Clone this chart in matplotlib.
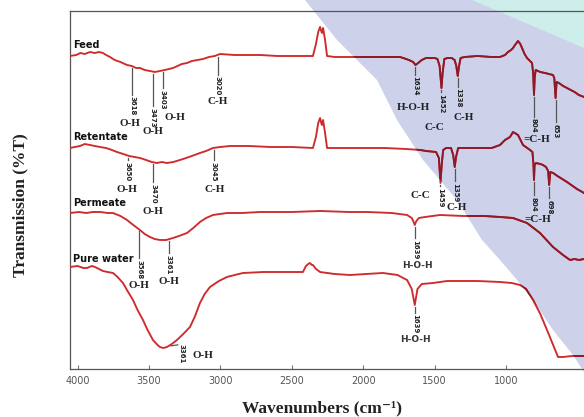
import matplotlib
matplotlib.use("Agg")
import matplotlib.pyplot as plt
import numpy as np
from matplotlib.path import Path
from matplotlib.patches import PathPatch
from matplotlib.transforms import offset_copy

# ---------------------------------------------------------------------------
# FTIR spectra (wavenumber in cm-1, transmission in stacked arbitrary units)
# ---------------------------------------------------------------------------
feed_wn = [4053, 4010, 3980, 3950, 3913, 3880, 3850, 3822, 3800, 3773, 3740, 3700,
           3654, 3620, 3590, 3563, 3530, 3493, 3460, 3423, 3390, 3360, 3332, 3300,
           3270, 3234, 3200, 3160, 3122, 3080, 3040, 3003, 2900, 2800, 2723, 2600,
           2500, 2420, 2352, 2331, 2315, 2302, 2292, 2288, 2281, 2267, 2253, 2200,
           2092, 1950, 1850, 1742, 1720, 1680, 1650, 1634, 1615, 1590, 1560, 1500,
           1480, 1465, 1452, 1444, 1432, 1410, 1380, 1360, 1348, 1338, 1330, 1318,
           1290, 1200, 1100, 1042, 1007, 986, 965, 951, 937, 916, 900, 888, 870,
           853, 832, 818, 810, 804, 799, 792, 760, 727, 700, 671, 662, 653, 646,
           630, 600, 560, 520, 490, 454]
feed_t = [313, 314, 316, 315, 317, 316, 317, 316, 314, 312, 309, 307,
          304, 303, 301, 301, 299, 298, 297, 298, 299, 300, 301, 303,
          305, 306, 308, 309, 310, 312, 313, 315, 314, 314, 314, 313,
          313, 313, 313, 325, 337, 342, 337, 336, 341, 329, 313, 312,
          312, 312, 312, 312, 311, 309, 307, 304, 306, 309, 311, 311,
          310, 303, 281, 296, 310, 311, 311, 309, 303, 293, 302, 311,
          312, 313, 312, 312, 314, 317, 319, 321, 324, 328, 325, 321, 315,
          311, 308, 306, 296, 274, 292, 299, 297, 296, 295, 294, 291, 271, 287,
          286, 283, 280, 277, 274, 272]

ret_wn = [4053, 4020, 3983, 3950, 3913, 3880, 3843, 3800, 3760, 3724, 3680, 3640,
          3600, 3563, 3520, 3480, 3444, 3410, 3374, 3330, 3283, 3240, 3200, 3143,
          3100, 3052, 3000, 2933, 2800, 2650, 2500, 2352, 2331, 2315, 2302, 2292,
          2288, 2281, 2267, 2253, 2150, 2000, 1850, 1700, 1600, 1560, 1490, 1470,
          1459, 1450, 1440, 1420, 1385, 1370, 1359, 1350, 1335, 1250, 1100, 1042,
          1007, 972, 951, 916, 881, 832, 815, 808, 804, 800, 790, 760, 741, 720,
          705, 698, 690, 670, 640, 573, 503, 454]
ret_t = [221, 222, 223, 225, 224, 223, 222, 221, 219, 217, 215, 213,
         212, 211, 209, 207, 206, 207, 206, 207, 209, 211, 213, 216,
         218, 221, 222, 223, 223, 222, 222, 221, 232, 246, 251, 245,
         244, 249, 236, 221, 221, 221, 221, 220, 219, 218, 217, 211,
         186, 205, 219, 221, 221, 214, 202, 212, 221, 221, 221, 224,
         229, 232, 237, 234, 224, 219, 217, 205, 189, 204, 206, 205, 204, 202,
         198, 184, 197, 196, 193, 187, 180, 176]

per_wn = [4053, 3990, 3940, 3892, 3840, 3790, 3752, 3700, 3654, 3610, 3563, 3530,
          3493, 3460, 3423, 3380, 3332, 3290, 3234, 3190, 3143, 3100, 3052, 2954,
          2850, 2723, 2500, 2302, 2100, 1973, 1800, 1693, 1660, 1650, 1639, 1628,
          1610, 1567, 1462, 1300, 1150, 1042, 951, 853, 762, 671, 601, 552, 520,
          490, 454]
per_t = [156, 157, 156, 157, 157, 156, 156, 153, 149, 144, 139, 135,
         132, 130, 129, 129, 131, 133, 136, 141, 147, 151, 154, 156,
         156, 157, 157, 158, 157, 157, 156, 154, 151, 148, 144, 148,
         151, 152, 154, 153, 153, 152, 151, 146, 136, 122, 114, 109, 110,
         109, 110]

pw_wn = [4053, 4000, 3960, 3934, 3900, 3878, 3850, 3822, 3790, 3752, 3720, 3682,
         3650, 3612, 3580, 3542, 3510, 3472, 3440, 3423, 3400, 3374, 3340, 3304,
         3260, 3213, 3180, 3143, 3110, 3073, 3010, 2954, 2900, 2842, 2700, 2604,
         2500, 2422, 2401, 2385, 2373, 2360, 2352, 2330, 2302, 2200, 2092, 1980,
         1861, 1760, 1693, 1660, 1639, 1620, 1590, 1511, 1413, 1200, 1042, 960,
         902, 860, 811, 760, 713, 670, 636, 600, 540, 454]
pw_t = [102, 103, 101, 101, 103, 102, 100, 98, 97, 96, 92, 86,
        78, 69, 59, 49, 39, 29, 24, 22, 21, 22, 25, 29,
        35, 42, 52, 66, 75, 82, 88, 92, 94, 96, 97, 97,
        97, 97, 103, 105, 106, 104, 104, 100, 97, 95, 94, 95,
        96, 94, 89, 80, 64, 80, 85, 86, 88, 88, 87, 86,
        84, 80, 69, 55, 39, 24, 12, 12, 13, 13]

series_names = ["Feed", "Retentate", "Permeate", "Pure water"]

# band assignments (peak position, functional group)
feed_bands = [3618, 3473, 3403, 3020, 1634, 1452, 1338, 804, 653]
feed_groups = ["O-H", "O-H", "O-H", "C-H", "H-O-H", "C-C", "C-H", "=C-H", ""]
ret_bands = [3650, 3470, 3045, 1459, 1359, 804, 698]
ret_groups = ["O-H", "O-H", "C-H", "C-C", "C-H", "=C-H", ""]
per_bands = [3568, 3361, 1639]
per_groups = ["O-H", "O-H", "H-O-H"]
pw_bands = [1639]
pw_groups = ["H-O-H"]
pw_min_band = 3361
pw_min_group = "O-H"

tick_values = [4000, 3500, 3000, 2500, 2000, 1500, 1000]

# ---------------------------------------------------------------------------
# figure layout (pixel based, 100 dpi)
# ---------------------------------------------------------------------------
W, H = 584, 417
fig = plt.figure(figsize=(W / 100, H / 100), dpi=100)
fig.patch.set_facecolor("white")


def fpt(x, y):
    return (x / W, 1 - y / H)


def compound_path(outer, holes=()):
    verts, codes = [], []
    for ring in [outer] + [list(reversed(h)) for h in holes]:
        pts = [fpt(x, y) for x, y in ring]
        verts += pts + [pts[0]]
        codes += [Path.MOVETO] + [Path.LINETO] * (len(pts) - 1) + [Path.CLOSEPOLY]
    return Path(verts, codes)


def rect(x0, y0, x1, y1):
    return [(x0, y0), (x1, y0), (x1, y1), (x0, y1)]


# translucent highlight band across the right half
band_outline = [(305, 0), (337, 40), (377, 80), (397, 120), (423, 160), (457, 200),
                (482, 240), (500, 260), (517, 280), (533, 300), (553, 330),
                (573, 355), (584, 372), (584, 0)]
band_holes = [rect(448, 68, 472, 140), rect(519, 68, 540, 140), rect(563, 68, 584, 140)]
band_path = compound_path(band_outline, band_holes)
fig.patches.append(PathPatch(band_path, transform=fig.transFigure,
                             facecolor="#cdd2ea", edgecolor="none", zorder=-2))
teal_path = compound_path([(472, 0), (584, 0), (584, 48)])
fig.patches.append(PathPatch(teal_path, transform=fig.transFigure,
                             facecolor="#cdeeea", edgecolor="none", zorder=-1))
clip_patch = PathPatch(band_path, transform=fig.transFigure)

ax_left, ax_top, ax_bottom = 70, 11, 369
ax = fig.add_axes([ax_left / W, 1 - ax_bottom / H, (W - ax_left) / W,
                   (ax_bottom - ax_top) / H])
ax.set_facecolor("none")
ax.set_xlim(4053, 454)
ax.set_ylim(0, ax_bottom - ax_top)

RED = "#cf2a2c"
DARK = "#8c1a2a"

for wn, t in [(feed_wn, feed_t), (ret_wn, ret_t), (per_wn, per_t), (pw_wn, pw_t)]:
    ax.plot(wn, t, color=RED, lw=1.35, solid_joinstyle="round", zorder=3)
    dark, = ax.plot(wn, t, color=DARK, lw=1.35, solid_joinstyle="round", zorder=4)
    dark.set_clip_path(clip_patch)

# spines / ticks
ax.spines["right"].set_visible(False)
for side in ["left", "top", "bottom"]:
    ax.spines[side].set_color("#555555")
    ax.spines[side].set_linewidth(0.9)
ax.set_yticks([])
ax.set_xticks(tick_values)
ax.set_xticklabels([str(v) for v in tick_values])
ax.tick_params(axis="x", direction="in", length=3, width=0.8, colors="#777777",
               labelsize=7, labelcolor="#555555", pad=5)
for lab in ax.get_xticklabels():
    lab.set_fontfamily("DejaVu Sans")

# series names
name_y = [45, 137, 203, 259]
for name, y in zip(series_names, name_y):
    fig.text(73 / W, 1 - y / H, name, ha="left", va="center", fontsize=7,
             fontweight="bold", family="DejaVu Sans", color="#111111")

SERIF = ["Liberation Serif", "DejaVu Serif"]
NUM_SIZE = 5.0


def band_marks(wn, t, bands, groups, ends, group_y, group_dx, group_font,
               num_color="#222222"):
    wn_arr = np.asarray(wn, dtype=float)[::-1]
    t_arr = np.asarray(t, dtype=float)[::-1]
    for b, g, e, gy, dx, gf in zip(bands, groups, ends, group_y, group_dx, group_font):
        top = np.interp(b, wn_arr, t_arr) - 2
        ax.plot([b, b], [top, e], color="#555555", lw=0.9, zorder=2)
        ax.text(b, e - 1.5, str(b), rotation=270, ha="center", va="top",
                fontsize=NUM_SIZE, fontweight="bold", family="DejaVu Sans",
                color=num_color, zorder=5)
        if g:
            tr = offset_copy(ax.transData, fig=fig, x=dx, y=0, units="dots")
            if gf == "serif":
                ax.text(b, gy, g, transform=tr, ha="center", va="center",
                        fontsize=8, fontweight="bold", family=SERIF,
                        color="#222222", zorder=5)
            else:
                ax.text(b, gy, g, transform=tr, ha="center", va="center",
                        fontsize=6.5, fontweight="bold", family="DejaVu Sans",
                        color="#333333", zorder=5)


# label placement (line end / group label height in axis units, x offset in px)
band_marks(feed_wn, feed_t, feed_bands, feed_groups,
           ends=[274, 263, 281, 294, 294, 277, 282, 252, 247],
           group_y=[246, 237, 251, 267, 262, 242, 252, 229, 0],
           group_dx=[-2, 0, 12, 0, -2, -7, 6, 3, 0],
           group_font=["serif"] * 9)
band_marks(ret_wn, ret_t, ret_bands, ret_groups,
           ends=[209, 187, 209, 183, 188, 174, 171],
           group_y=[180, 158, 180, 174, 162, 150, 0],
           group_dx=[-1, 0, 1, -20, 2, 4, 0],
           group_font=["serif"] * 7)
band_marks(per_wn, per_t, per_bands, per_groups,
           ends=[111, 116, 131],
           group_y=[83, 88, 103],
           group_dx=[0, 0, 3],
           group_font=["serif", "serif", "sans"])
band_marks(pw_wn, pw_t, pw_bands, pw_groups,
           ends=[56], group_y=[30], group_dx=[1], group_font=["sans"])

# minimum of the pure-water O-H band: short leader to a side label
pw_min_t = np.interp(pw_min_band, np.asarray(pw_wn)[::-1], np.asarray(pw_t)[::-1])
tr_a = offset_copy(ax.transData, fig=fig, x=2, y=0, units="dots")
tr_b = offset_copy(ax.transData, fig=fig, x=9, y=0, units="dots")
p0 = tr_a.transform((pw_min_band, pw_min_t))
p1 = tr_b.transform((pw_min_band, pw_min_t + 1))
ax.plot([p0[0], p1[0]], [p0[1], p1[1]], transform=None, color="#555555", lw=0.9)
ax.text(pw_min_band, pw_min_t - 8, str(pw_min_band), rotation=270, ha="center",
        va="center", fontsize=NUM_SIZE, fontweight="bold", family="DejaVu Sans",
        color="#222222",
        transform=offset_copy(ax.transData, fig=fig, x=13, y=0, units="dots"))
ax.text(pw_min_band, pw_min_t - 10, pw_min_group, ha="center", va="center",
        fontsize=8, fontweight="bold", family=SERIF, color="#222222",
        transform=offset_copy(ax.transData, fig=fig, x=34, y=0, units="dots"))

# axis titles
fig.text(322 / W, 1 - 408 / H, "Wavenumbers (cm\u207b\u00b9)", ha="center", va="center",
         fontsize=12.5, fontweight="bold", family=SERIF, color="#222222")
fig.text(20 / W, 1 - 205 / H, "Transmission (%T)", rotation=90, ha="center",
         va="center", fontsize=12.5, fontweight="bold", family=SERIF, color="#222222")

fig.savefig("out.png", dpi=100)
